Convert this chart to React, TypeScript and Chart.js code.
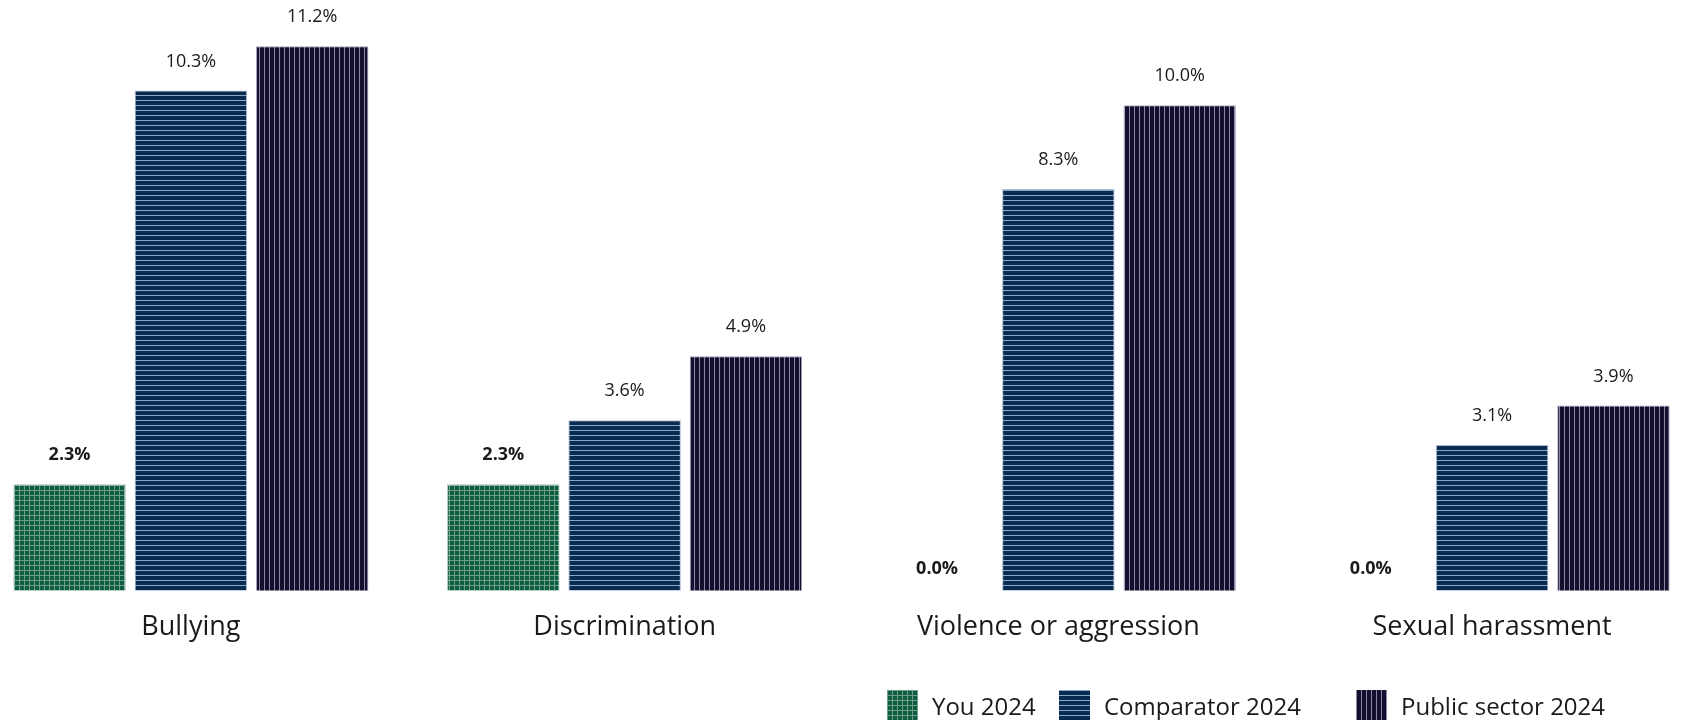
import React, { useEffect, useRef } from "react";
import { Chart, registerables } from "chart.js";

Chart.register(...registerables);

const categories = ["Bullying", "Discrimination", "Violence or aggression", "Sexual harassment"];
const seriesNames = ["You 2024", "Comparator 2024", "Public sector 2024"];
const youValues = [2.3, 2.3, 0.0, 0.0];
const comparatorValues = [10.3, 3.6, 8.3, 3.1];
const publicValues = [11.2, 4.9, 10.0, 3.9];

const seriesValues = [youValues, comparatorValues, publicValues];
const seriesStyles = [
  { bg: "#0d5d40", line: "#6f9d89", kind: "grid", border: "#9fbfb1" },
  { bg: "#0a2b50", line: "#86a6ca", kind: "h", border: "#a9bdd4" },
  { bg: "#140f2c", line: "#8b85a8", kind: "v", border: "#aaa6bf" },
];

const FONT = "'Open Sans', sans-serif";

function makePattern(style: { bg: string; line: string; kind: string }): CanvasPattern | string {
  const c = document.createElement("canvas");
  c.width = 5;
  c.height = 5;
  const ctx = c.getContext("2d");
  if (!ctx) return style.bg;
  ctx.fillStyle = style.bg;
  ctx.fillRect(0, 0, 5, 5);
  ctx.fillStyle = style.line;
  if (style.kind === "grid" || style.kind === "v") ctx.fillRect(0, 0, 1, 5);
  if (style.kind === "grid" || style.kind === "h") ctx.fillRect(0, 0, 5, 1);
  const p = ctx.createPattern(c, "repeat");
  return p || style.bg;
}

function swatchCss(style: { bg: string; line: string; kind: string }): React.CSSProperties {
  const v = `linear-gradient(to right, ${style.line} 1px, transparent 1px)`;
  const h = `linear-gradient(to bottom, ${style.line} 1px, transparent 1px)`;
  let img = "";
  if (style.kind === "grid") img = `${v}, ${h}`;
  else if (style.kind === "v") img = v;
  else img = h;
  return {
    width: 31,
    height: 31,
    backgroundColor: style.bg,
    backgroundImage: img,
    backgroundSize: "5px 5px",
    flex: "0 0 auto",
  };
}

const valueLabels = {
  id: "valueLabels",
  afterDatasetsDraw(chart: any) {
    const ctx = chart.ctx;
    const yScale = chart.scales.y;
    ctx.save();
    ctx.textAlign = "center";
    ctx.textBaseline = "middle";
    ctx.fillStyle = "#1a1a1a";
    chart.data.datasets.forEach((ds: any, di: number) => {
      const meta = chart.getDatasetMeta(di);
      ctx.font = `${di === 0 ? "bold " : ""}18px ${FONT}`;
      meta.data.forEach((el: any, i: number) => {
        const v = ds.data[i] as number;
        const y = yScale.getPixelForValue(v) - 29;
        ctx.fillText(v.toFixed(1) + "%", el.x, y);
      });
    });
    ctx.restore();
  },
};

const legendLefts = [887, 1059, 1356];

export default function App() {
  const ref = useRef<HTMLCanvasElement | null>(null);

  useEffect(() => {
    if (!ref.current) return;
    const chart = new Chart(ref.current, {
      type: "bar",
      data: {
        labels: categories,
        datasets: seriesNames.map((name, i) => ({
          label: name,
          data: seriesValues[i],
          backgroundColor: makePattern(seriesStyles[i]) as any,
          borderColor: seriesStyles[i].border,
          borderWidth: 1,
          borderSkipped: false,
          categoryPercentage: 0.839,
          barPercentage: 0.927,
        })),
      },
      options: {
        animation: false,
        responsive: false,
        maintainAspectRatio: false,
        layout: { padding: { top: 0, left: 0, right: 0, bottom: 55 } },
        plugins: {
          legend: { display: false },
          tooltip: { enabled: false },
        },
        scales: {
          x: {
            grid: { display: false, drawTicks: false },
            border: { display: false },
            ticks: {
              color: "#1a1a1a",
              font: { family: FONT, size: 27 },
              padding: 21,
            },
          },
          y: {
            display: false,
            min: 0.14,
            max: 12.14,
          },
        },
      },
      plugins: [valueLabels],
    });
    return () => chart.destroy();
  }, []);

  return (
    <div
      style={{
        position: "fixed",
        left: 0,
        top: 0,
        width: "100vw",
        height: "100vh",
        overflow: "hidden",
        background: "#fff",
      }}
    >
      <canvas
        ref={ref}
        width={1735}
        height={720}
        style={{ position: "absolute", left: -26, top: 0, width: 1735, height: 720 }}
      />
      {seriesNames.map((name, i) => (
        <div
          key={name}
          style={{
            position: "absolute",
            left: legendLefts[i],
            top: 690,
            display: "flex",
            alignItems: "flex-start",
            fontFamily: FONT,
            fontSize: 24,
            lineHeight: "31px",
            color: "#1a1a1a",
            whiteSpace: "nowrap",
          }}
        >
          <div style={swatchCss(seriesStyles[i])} />
          <span style={{ marginLeft: 14 }}>{name}</span>
        </div>
      ))}
    </div>
  );
}
